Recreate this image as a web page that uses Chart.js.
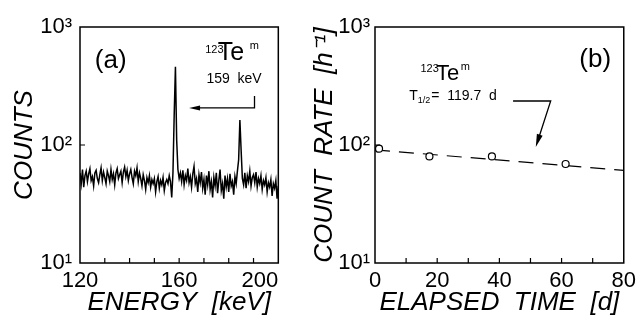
<!DOCTYPE html>
<html><head><meta charset="utf-8">
<script src="https://cdn.jsdelivr.net/npm/chart.js@4.4.1/dist/chart.umd.min.js"></script>
<style>
html,body{margin:0;padding:0;background:#fff;width:641px;height:324px;overflow:hidden}
#a{position:absolute;left:0;top:0;width:320px;height:324px}
#b{position:absolute;left:305px;top:0;width:336px;height:324px}
canvas{display:block}
</style></head><body>
<div id="a"><canvas id="ca" width="320" height="324"></canvas></div>
<div id="b"><canvas id="cb" width="336" height="324"></canvas></div>
<script>
const FONT = "'Liberation Sans', Arial, sans-serif";

// ---------- panel (a): gamma spectrum ----------
const spectrumStartKeV = 120;
const channelWidthKeV = 0.5;
const spectrumCounts = [
  58, 47, 62, 44, 55, 60, 49, 57, 63, 50,
  54, 45, 58, 61, 52, 48, 56, 64, 50, 59,
  53, 47, 60, 55, 49, 62, 51, 57, 46, 58,
  63, 52, 56, 60, 48, 59, 65, 54, 61, 50,
  57, 62, 53, 47, 60, 55, 64, 49, 58, 52,
  45, 56, 50, 42, 53, 48, 55, 44, 51, 47,
  52, 40, 49, 54, 43, 50, 46, 53, 41, 48,
  51, 47, 55, 49, 36, 58, 180, 460, 110, 62,
  52, 58, 49, 61, 46, 55, 50, 63, 48, 54,
  44, 57, 66, 47, 52, 40, 56, 48, 59, 43,
  51, 38, 55, 46, 60, 42, 49, 36, 53, 45,
  58, 39, 50, 62, 41, 47, 35, 55, 44, 52,
  40, 57, 45, 49, 38, 54, 47, 60, 75, 163,
  90, 52, 46, 58, 43, 55, 49, 60, 45, 53,
  56, 48, 59, 44, 52, 47, 55, 42, 50, 46,
  53, 40, 48, 44, 51, 37, 47, 43, 50, 35,
  45
];
const energyTicks = [120, 130, 140, 150, 160, 170, 180, 190, 200];
const energyTickLabels = {120: '120', 160: '160', 200: '200      '};
const countTicks = [10, 100, 1000];
const countTickLabels = ['10\u00B9', '10\u00B2', '10\u00B3'];

// ---------- panel (b): decay ----------
const elapsedDays = [1.3, 17.5, 37.6, 61.3];
const countRates = [93, 80, 80, 69];
const fitDays = [0, 80];
const fitRates = [91, 61];
const timeTicks = [0, 10, 20, 30, 40, 50, 60, 70, 80];
const timeTickLabels = {0: '0', 20: '20', 40: '40', 60: '60', 80: '80'};
const rateTicks = [10, 100, 1000];
const rateTickLabels = ['10\u00B9', '10\u00B2', '10\u00B3'];

function framePlugin(id, drawNotes) {
  return {
    id,
    afterDraw(chart) {
      const {ctx, chartArea: a, scales} = chart;
      ctx.save();
      ctx.strokeStyle = '#000';
      ctx.lineWidth = 1.5;
      ctx.strokeRect(a.left, a.top, a.right - a.left, a.bottom - a.top);
      ctx.lineWidth = 1.2;
      ctx.beginPath();
      for (const t of scales.x.ticks) {
        if (t.value <= scales.x.min || t.value >= scales.x.max) continue;
        const x = scales.x.getPixelForValue(t.value);
        ctx.moveTo(x, a.bottom); ctx.lineTo(x, a.bottom - 5);
      }
      for (const t of scales.y.ticks) {
        if (t.value <= scales.y.min || t.value >= scales.y.max) continue;
        const y = scales.y.getPixelForValue(t.value);
        ctx.moveTo(a.left, y); ctx.lineTo(a.left + 5, y);
      }
      ctx.stroke();
      drawNotes(chart, ctx);
      ctx.restore();
    }
  };
}
function P(chart, xv, yv) {
  return [chart.scales.x.getPixelForValue(xv), chart.scales.y.getPixelForValue(yv)];
}
function txt(ctx, s, p, size, dx = 0, dy = 0) {
  ctx.font = size + 'px ' + FONT;
  ctx.fillStyle = '#000';
  ctx.textAlign = 'left';
  ctx.textBaseline = 'alphabetic';
  ctx.fillText(s, p[0] + dx, p[1] + dy);
  return ctx.measureText(s).width;
}
function arrowHead(ctx, from, to, len, half) {
  const ang = Math.atan2(to[1] - from[1], to[0] - from[0]);
  ctx.beginPath();
  ctx.moveTo(to[0], to[1]);
  ctx.lineTo(to[0] - len * Math.cos(ang) + half * Math.sin(ang), to[1] - len * Math.sin(ang) - half * Math.cos(ang));
  ctx.lineTo(to[0] - len * Math.cos(ang) - half * Math.sin(ang), to[1] - len * Math.sin(ang) + half * Math.cos(ang));
  ctx.closePath();
  ctx.fill();
}

function commonScales(xMin, xMax, xTicks, xLabels, xTitle, yTicks, yLabels, yTitle, yWidth, yPad, yTitlePad) {
  return {
    x: {
      type: 'linear', min: xMin, max: xMax,
      afterBuildTicks: s => { s.ticks = xTicks.map(v => ({value: v})); },
      ticks: {autoSkip: false, maxRotation: 0, minRotation: 0, padding: 5, color: '#000',
        font: {family: FONT, size: 22}, callback: v => (xLabels[v] !== undefined ? xLabels[v] : '')},
      grid: {display: false, drawTicks: false}, border: {display: false},
      title: {display: true, text: xTitle, color: '#000',
        font: {family: FONT, size: 26, style: 'italic'}, padding: {top: 0, bottom: 6}},
      afterFit: s => { s.height = 61; }
    },
    y: {
      type: 'logarithmic', min: 10, max: 1000,
      afterBuildTicks: s => { s.ticks = yTicks.map(v => ({value: v})); },
      ticks: {padding: yPad, color: '#000', font: {family: FONT, size: 22},
        callback: v => yLabels[yTicks.indexOf(v)]},
      grid: {display: false, drawTicks: false}, border: {display: false},
      title: {display: true, text: yTitle, color: '#000',
        font: {family: FONT, size: 26, style: 'italic'}, padding: {top: yTitlePad, bottom: 0}},
      afterFit: s => { s.width = yWidth; }
    }
  };
}

// ----- chart (a)
new Chart(document.getElementById('ca'), {
  type: 'line',
  data: {
    datasets: [{
      data: spectrumCounts.map((c, i) => ({x: spectrumStartKeV + i * channelWidthKeV, y: c})),
      borderColor: '#000', borderWidth: 1.5, pointRadius: 0, tension: 0, fill: false
    }]
  },
  options: {
    responsive: false, animation: false,
    layout: {padding: {top: 27, right: 40, left: 0, bottom: 0}},
    plugins: {legend: {display: false}, tooltip: {enabled: false}},
    scales: commonScales(120, 200, energyTicks, energyTickLabels, 'ENERGY  [keV]',
      countTicks, countTickLabels, 'COUNTS', 80, 8, 9)
  },
  plugins: [framePlugin('frameA', (chart, ctx) => {
    txt(ctx, '(a)', P(chart, 126, 450), 26);
    txt(ctx, '123', P(chart, 170.5, 603), 11);
    txt(ctx, 'Te', P(chart, 175.6, 525), 25);
    txt(ctx, 'm', P(chart, 188.5, 650), 11);
    txt(ctx, '159  keV', P(chart, 171, 335), 14);
    ctx.strokeStyle = '#000'; ctx.lineWidth = 1.3;
    const a0 = P(chart, 190.4, 260), a1 = P(chart, 190.4, 206), a2 = P(chart, 164, 206);
    ctx.beginPath(); ctx.moveTo(a0[0], a0[1]); ctx.lineTo(a1[0], a1[1]); ctx.lineTo(a2[0] + 6, a2[1]); ctx.stroke();
    arrowHead(ctx, a1, a2, 11, 2.5);
  })]
});

// ----- chart (b)
new Chart(document.getElementById('cb'), {
  type: 'line',
  data: {
    datasets: [{
      data: elapsedDays.map((d, i) => ({x: d, y: countRates[i]})),
      showLine: false, pointStyle: 'circle', pointRadius: 3.5, pointBorderWidth: 1.2,
      pointBorderColor: '#000', pointBackgroundColor: '#fff', borderColor: '#000'
    }, {
      data: fitDays.map((d, i) => ({x: d, y: fitRates[i]})),
      borderColor: '#000', borderWidth: 1.2, borderDash: [15, 9], pointRadius: 0, tension: 0, fill: false
    }]
  },
  options: {
    responsive: false, animation: false,
    layout: {padding: {top: 27, right: 14, left: 0, bottom: 0}},
    plugins: {legend: {display: false}, tooltip: {enabled: false}},
    scales: commonScales(0, 80, timeTicks, timeTickLabels, 'ELAPSED  TIME  [d]',
      rateTicks, rateTickLabels, 'COUNT  RATE  [h\u207B\u00B9]', 70, 5, 4)
  },
  plugins: [framePlugin('frameB', (chart, ctx) => {
    txt(ctx, '(b)', P(chart, 65.7, 458), 26);
    txt(ctx, '123', P(chart, 14.6, 416), 11);
    txt(ctx, 'Te', P(chart, 19.6, 355), 22);
    txt(ctx, 'm', P(chart, 27.6, 432), 11);
    const t = P(chart, 11, 240);
    let w = txt(ctx, 'T', t, 14);
    let w2 = txt(ctx, '1/2', t, 9, w, 3);
    txt(ctx, '=  119.7  d', t, 14, w + w2 + 1, 0);
    ctx.strokeStyle = '#000'; ctx.lineWidth = 1.3;
    const b0 = P(chart, 44.4, 236), b1 = P(chart, 56.5, 236), b2 = P(chart, 51.7, 96);
    const ang = Math.atan2(b2[1] - b1[1], b2[0] - b1[0]);
    ctx.beginPath(); ctx.moveTo(b0[0], b0[1]); ctx.lineTo(b1[0], b1[1]);
    ctx.lineTo(b2[0] - 8 * Math.cos(ang), b2[1] - 8 * Math.sin(ang)); ctx.stroke();
    arrowHead(ctx, b1, b2, 13, 3);
  })]
});
</script>
</body></html>
